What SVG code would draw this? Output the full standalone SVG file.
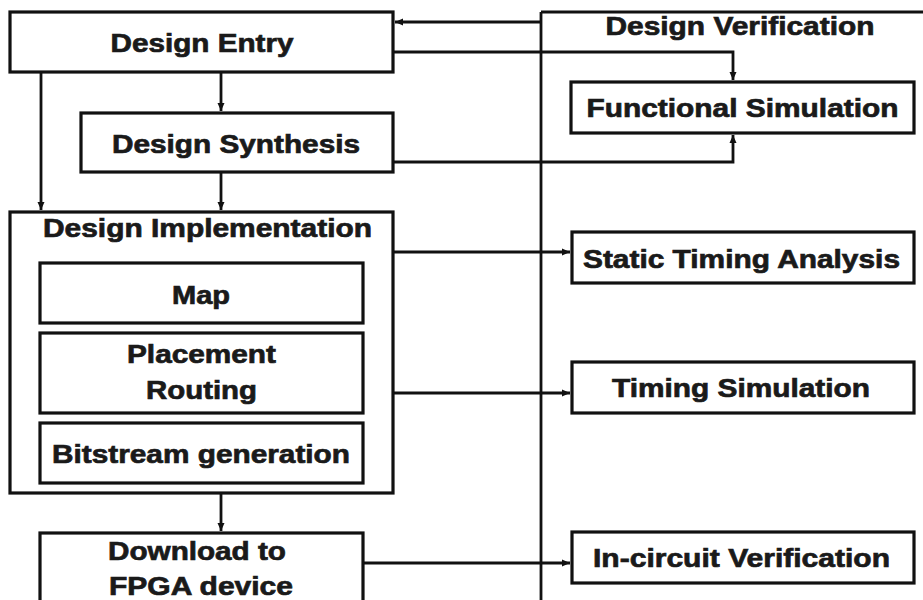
<svg xmlns="http://www.w3.org/2000/svg" width="923" height="600" viewBox="0 0 923 600">
  <style>
    .box { fill: #ffffff; stroke: #111111; stroke-width: 3.2; }
    .wire { fill: none; stroke: #111111; stroke-width: 2.8; }
    .lbl { font-family: "Liberation Sans", Arial, sans-serif; font-weight: bold; font-size: 26px; fill: #1a1a1a; stroke: #1a1a1a; stroke-width: 0.7; text-anchor: middle; }
  </style>
  <defs>
    <marker id="arrow" markerUnits="userSpaceOnUse" markerWidth="9" markerHeight="8" refX="8" refY="4" orient="auto">
      <path d="M0,0.5 L8,4 L0,7.5 z" fill="#111111"/>
    </marker>
  </defs>
  <rect x="0" y="0" width="923" height="600" fill="#ffffff"/>

  <!-- connectors -->
  <g id="connectors">
    <!-- verification column frame -->
    <path class="wire" d="M541,12 H923 M541,12 V600"/>
    <!-- feedback into design entry -->
    <path class="wire" d="M541,22 H395" marker-end="url(#arrow)"/>
    <!-- entry to synthesis / implementation -->
    <path class="wire" d="M221,72 V111" marker-end="url(#arrow)"/>
    <path class="wire" d="M41,72 V210" marker-end="url(#arrow)"/>
    <path class="wire" d="M221,172 V210" marker-end="url(#arrow)"/>
    <!-- to functional simulation -->
    <path class="wire" d="M393,52 H733 V80" marker-end="url(#arrow)"/>
    <path class="wire" d="M393,162 H733 V135" marker-end="url(#arrow)"/>
    <!-- implementation outputs -->
    <path class="wire" d="M393,252 H570" marker-end="url(#arrow)"/>
    <path class="wire" d="M393,393 H570" marker-end="url(#arrow)"/>
    <path class="wire" d="M221,493 V531" marker-end="url(#arrow)"/>
    <path class="wire" d="M363,563 H570" marker-end="url(#arrow)"/>
  </g>

  <g id="design-entry">
    <rect class="box" x="10" y="12" width="383" height="60"/>
    <text class="lbl" x="202" y="52" textLength="183" lengthAdjust="spacingAndGlyphs">Design Entry</text>
  </g>

  <g id="design-synthesis">
    <rect class="box" x="81" y="113" width="312" height="59"/>
    <text class="lbl" x="236" y="153" textLength="248" lengthAdjust="spacingAndGlyphs">Design Synthesis</text>
  </g>

  <g id="design-implementation">
    <rect class="box" x="10" y="212" width="383" height="281"/>
    <text class="lbl" x="207.5" y="237" textLength="329" lengthAdjust="spacingAndGlyphs">Design Implementation</text>
  </g>

  <g id="map">
    <rect class="box" x="40" y="263" width="323" height="60"/>
    <text class="lbl" x="201" y="304" textLength="58" lengthAdjust="spacingAndGlyphs">Map</text>
  </g>

  <g id="placement-routing">
    <rect class="box" x="40" y="333" width="323" height="80"/>
    <text class="lbl" x="201.5" y="363" textLength="149" lengthAdjust="spacingAndGlyphs">Placement</text>
    <text class="lbl" x="201.5" y="399" textLength="111" lengthAdjust="spacingAndGlyphs">Routing</text>
  </g>

  <g id="bitstream-generation">
    <rect class="box" x="40" y="423" width="323" height="60"/>
    <text class="lbl" x="201" y="463" textLength="298" lengthAdjust="spacingAndGlyphs">Bitstream generation</text>
  </g>

  <g id="download">
    <rect class="box" x="40" y="533" width="323" height="80"/>
    <text class="lbl" x="197" y="560" textLength="178" lengthAdjust="spacingAndGlyphs">Download to</text>
    <text class="lbl" x="201" y="595" textLength="184" lengthAdjust="spacingAndGlyphs">FPGA device</text>
  </g>

  <g id="design-verification">
    <text class="lbl" x="740" y="35" textLength="269" lengthAdjust="spacingAndGlyphs">Design Verification</text>
  </g>

  <g id="functional-simulation">
    <rect class="box" x="571" y="82" width="343" height="51"/>
    <text class="lbl" x="742.5" y="117" textLength="312" lengthAdjust="spacingAndGlyphs">Functional Simulation</text>
  </g>

  <g id="static-timing-analysis">
    <rect class="box" x="572" y="232" width="342" height="51"/>
    <text class="lbl" x="741.5" y="268" textLength="317" lengthAdjust="spacingAndGlyphs">Static Timing Analysis</text>
  </g>

  <g id="timing-simulation">
    <rect class="box" x="572" y="362" width="342" height="51"/>
    <text class="lbl" x="741" y="397" textLength="258" lengthAdjust="spacingAndGlyphs">Timing Simulation</text>
  </g>

  <g id="in-circuit-verification">
    <rect class="box" x="572" y="532" width="342" height="51"/>
    <text class="lbl" x="741.5" y="567" textLength="297" lengthAdjust="spacingAndGlyphs">In-circuit Verification</text>
  </g>
</svg>
